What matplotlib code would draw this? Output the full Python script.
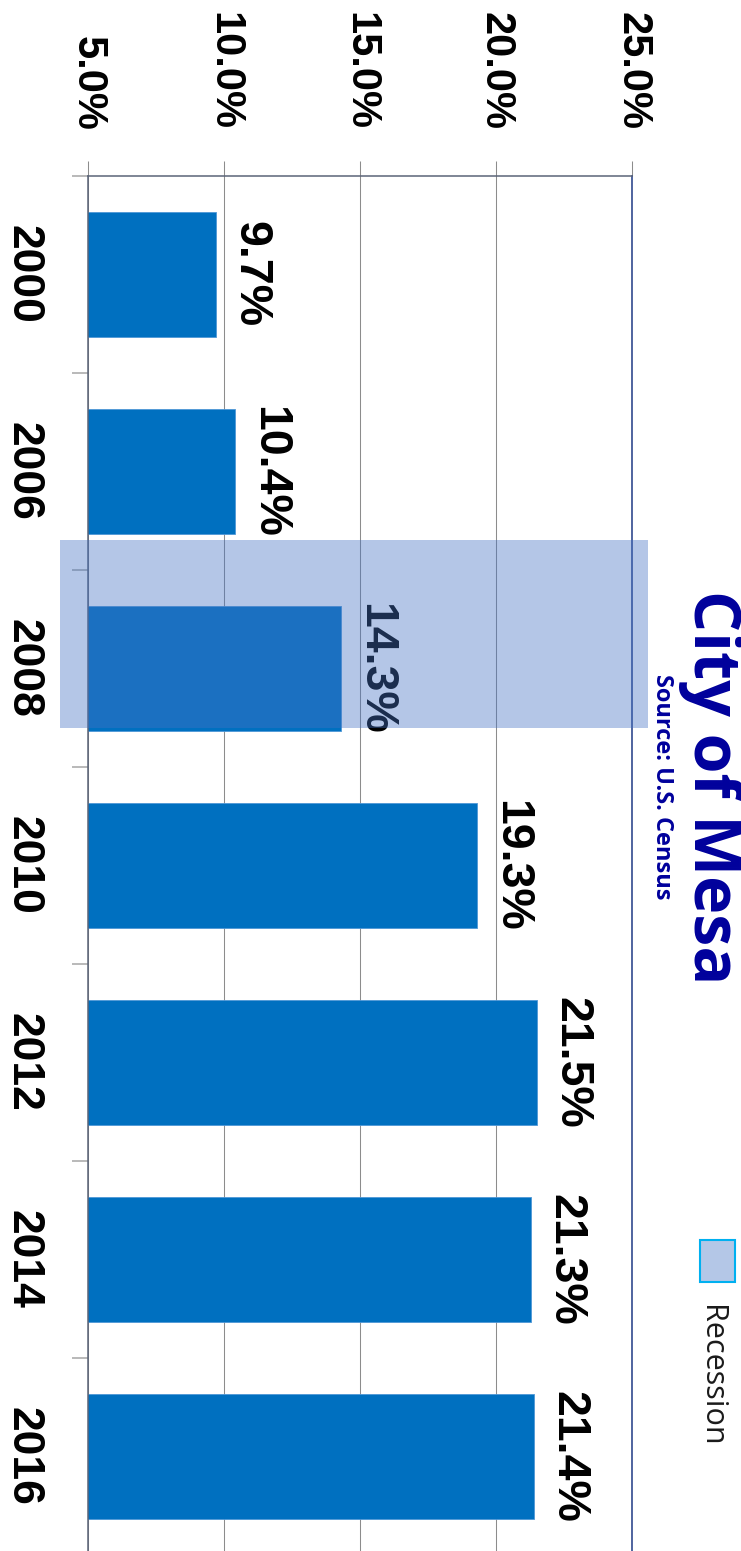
"""City of Mesa rate chart, drawn sideways (rotated 90 degrees)."""
import matplotlib
matplotlib.use("Agg")
import matplotlib.pyplot as plt
import matplotlib.transforms as mtransforms
from matplotlib.patches import Rectangle

years = ["2000", "2006", "2008", "2010", "2012", "2014", "2016"]
rates = [9.7, 10.4, 14.3, 19.3, 21.5, 21.3, 21.4]
recession_years = ["2008"]
xticks = [5, 10, 15, 20, 25]

W, H = 741, 1551
NUM_FONT = "Liberation Sans"
TXT_FONT = "Open Sans"
NAVY = "#00009C"

fig = plt.figure(figsize=(W / 100, H / 100), dpi=100)
ax = fig.add_axes([88 / W, (H - 1555) / H, (632 - 88) / W, 1379 / H])

pos = list(range(len(years)))
ax.barh(pos, rates, height=0.635, color="#0070C0", edgecolor="#4f97d6",
        linewidth=0.6, zorder=2)
ax.set_xlim(5, 25)
ax.set_ylim(len(years) - 0.5, -0.5)

# value axis sits on top, labels read downwards
ax.xaxis.tick_top()
ax.set_xticks(xticks, [f"{t:.1f}%" for t in xticks])
ax.tick_params(axis="x", top=True, bottom=False, length=10.8, width=0.75,
               color="#8c8c8c", pad=22, labelsize=30, labelrotation=270)
ax.grid(axis="x", color="#8c8c8c", lw=0.75, zorder=1)
ax.set_axisbelow(True)

ax.set_yticks(pos, years)
ax.set_yticks([p - 0.5 for p in pos] + [pos[-1] + 0.5], minor=True)
ax.tick_params(axis="y", which="major", length=0, pad=32, labelsize=32,
               labelrotation=270)
ax.tick_params(axis="y", which="minor", length=11.5, width=1.1, color="#a6a6a6")
for lab in ax.get_xticklabels() + ax.get_yticklabels():
    lab.set_fontfamily(NUM_FONT)
    lab.set_fontweight("bold")
for lab in ax.get_yticklabels():
    lab.set_va("center")

ax.spines["bottom"].set_visible(False)
ax.spines["left"].set_color("#5b6478")
ax.spines["top"].set_color("#5b6478")
ax.spines["right"].set_color("#1f3a85")
for s in ("left", "top", "right"):
    ax.spines[s].set_linewidth(1.1)

for i, r in enumerate(rates):
    ax.annotate(f"{r}%", xy=(r, i), xytext=(8.7, 0), textcoords="offset points",
                ha="left", va="center", rotation=270, fontsize=33.5,
                fontfamily=NUM_FONT, fontweight="bold", color="black", zorder=3)

# recession shading, semi transparent over the bars
blend = mtransforms.blended_transform_factory(ax.transAxes, ax.transData)
for yr in recession_years:
    i = years.index(yr)
    ax.add_patch(Rectangle((-0.0515, i - 0.65), 1.081, 0.95, transform=blend,
                           facecolor="#4472C4", alpha=0.4, lw=0, clip_on=False,
                           zorder=5))

# titles
fig.text(678 / W, (H - 787) / H, "City of Mesa", rotation=270, ha="left",
         va="center", fontsize=46.5, fontweight="bold", fontfamily=TXT_FONT,
         color=NAVY)
fig.text(650 / W, (H - 787) / H, "Source: U.S. Census", rotation=270, ha="left",
         va="center", fontsize=17, fontweight="bold", fontfamily=TXT_FONT,
         color=NAVY)

# legend
fig.patches.append(Rectangle((700 / W, (H - 1282) / H), 35 / W, 42 / H,
                             transform=fig.transFigure, facecolor="#B4C7E7",
                             edgecolor="#00B0F0", lw=1.5))
fig.text(696 / W, (H - 1305) / H, "Recession", rotation=270, ha="left", va="top",
         fontsize=22, fontfamily=TXT_FONT, color="#1a1a1a")

fig.savefig("out.png", dpi=100)
